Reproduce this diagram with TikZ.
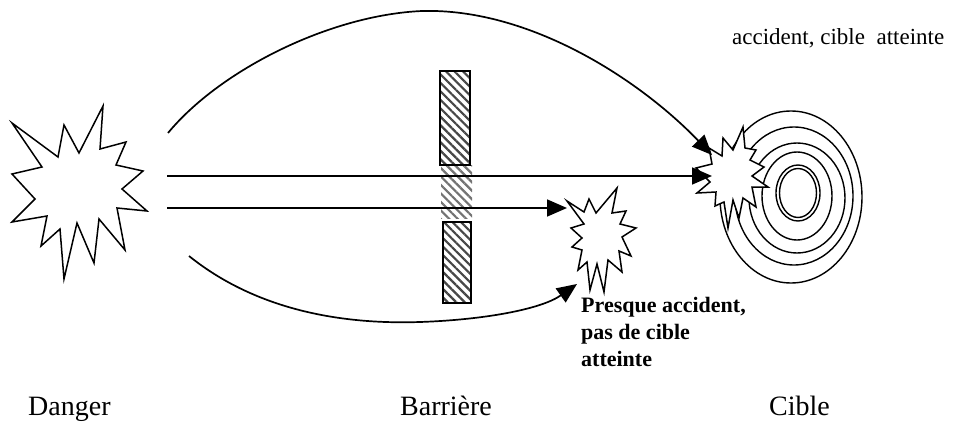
\documentclass[tikz,border=0pt]{standalone}
\usepackage{fontspec}
\setmainfont{Liberation Serif}
\usetikzlibrary{arrows.meta,patterns.meta}
\begin{document}
\begin{tikzpicture}[x=1pt,y=-1pt,
  curve/.style={line width=1.5pt},
  arr/.style={line width=1.7pt,-{Triangle[length=20pt,width=17pt]}},
  burst/.style={draw=black,fill=white,line width=1.5pt,line join=miter},
  ring/.style={draw=black,line width=1.4pt},
  hatch/.style={pattern={Lines[angle=-45,distance=6pt,line width=2.2pt]},pattern color=black!72},
  softhatch/.style={pattern={Lines[angle=-45,distance=6pt,line width=2.2pt]},pattern color=black!55},
  lbl/.style={font=\fontsize{28}{30}\selectfont,anchor=base west,inner sep=0pt},
  toplbl/.style={font=\fontsize{23}{26}\selectfont,anchor=base west,inner sep=0pt},
  boldlbl/.style={font=\bfseries\fontsize{22}{27}\selectfont,anchor=base west,inner sep=0pt,align=left}]
\fill[white] (0,0) rectangle (954,423);
\useasboundingbox (0,0) rectangle (954,423);

% target rings
\draw[ring] (791,197) ellipse [x radius=71, y radius=86];
\draw[ring] (794,196) ellipse [x radius=59, y radius=69];
\draw[ring] (797,198) ellipse [x radius=48, y radius=55];
\draw[ring] (797,196) ellipse [x radius=35, y radius=44];
\draw[ring] (798,193) ellipse [x radius=22, y radius=28];
\draw[ring] (798,193) ellipse [x radius=18.5, y radius=24.5];

% barrier
\path[softhatch] (441,165) rectangle (472,218);
\draw[hatch,draw=black,line width=1.2pt] (440,71) rectangle (470,165);
\draw[hatch,draw=black,line width=1.2pt] (443,222) rectangle (471,303);

% danger burst
\draw[burst] (12,123) -- (58,157) -- (64,125) -- (79,153) -- (103,106) -- (100,149)
  -- (126,142) -- (116,165) -- (143,171) -- (122,189) -- (147,211) -- (117,208)
  -- (125,250) -- (99,219) -- (94,263) -- (77,223) -- (64,279) -- (60,229)
  -- (41,246) -- (47,216) -- (12,222) -- (35,199) -- (12,174) -- (42,167) -- cycle;

% near-miss burst
\draw[burst] (567,201) -- (584,212) -- (589,199) -- (596,213) -- (617,188) -- (612,213)
  -- (626,211) -- (620,224) -- (636,228) -- (622,237) -- (631,256) -- (619,251)
  -- (622,272) -- (608,260) -- (604,292) -- (597,264) -- (590,290) -- (587,262)
  -- (578,270) -- (582,250) -- (572,247) -- (582,238) -- (571,228) -- (584,224) -- cycle;

% target burst
\draw[burst] (709,148) -- (722,156) -- (723,138) -- (733,150) -- (743,127) -- (745,148)
  -- (756,150) -- (750,160) -- (764,167) -- (752,176) -- (768,187) -- (752,187)
  -- (756,207) -- (743,198) -- (739,218) -- (733,200) -- (728,228) -- (724,202)
  -- (715,206) -- (716,192) -- (697,193) -- (710,182) -- (696,168) -- (712,164) -- cycle;

% connector end points
\coordinate (ustart) at (168,133);
\coordinate (utop) at (422,11);
\coordinate (utip) at (712,155);
\coordinate (l1start) at (167,176);
\coordinate (l1tip) at (712,176);
\coordinate (l2start) at (167,208);
\coordinate (l2tip) at (567,208);
\coordinate (dstart) at (189,256);
\coordinate (dlow) at (420,322);
\coordinate (dtip) at (577,284);

% connectors
\draw[arr] (ustart) .. controls (220,70) and (330,15) .. (utop)
  .. controls (530,8) and (640,80) .. (utip);
\draw[arr] (l1start) -- (l1tip);
\draw[arr] (l2start) -- (l2tip);
\draw[arr] (dstart) .. controls (250,305) and (330,325) .. (dlow)
  .. controls (480,320) and (540,310) .. (dtip);

% labels
\node[toplbl] (acc) at (732,45) {accident, cible\ \ atteinte};
\node[boldlbl] (presque) at (581,366) {Presque accident,\\pas de cible\\atteinte};
\node[lbl] (danger) at (28,415) {Danger};
\node[lbl] (barriere) at (400,415) {Barrière};
\node[lbl] (cible) at (769,415) {Cible};
\end{tikzpicture}
\end{document}
